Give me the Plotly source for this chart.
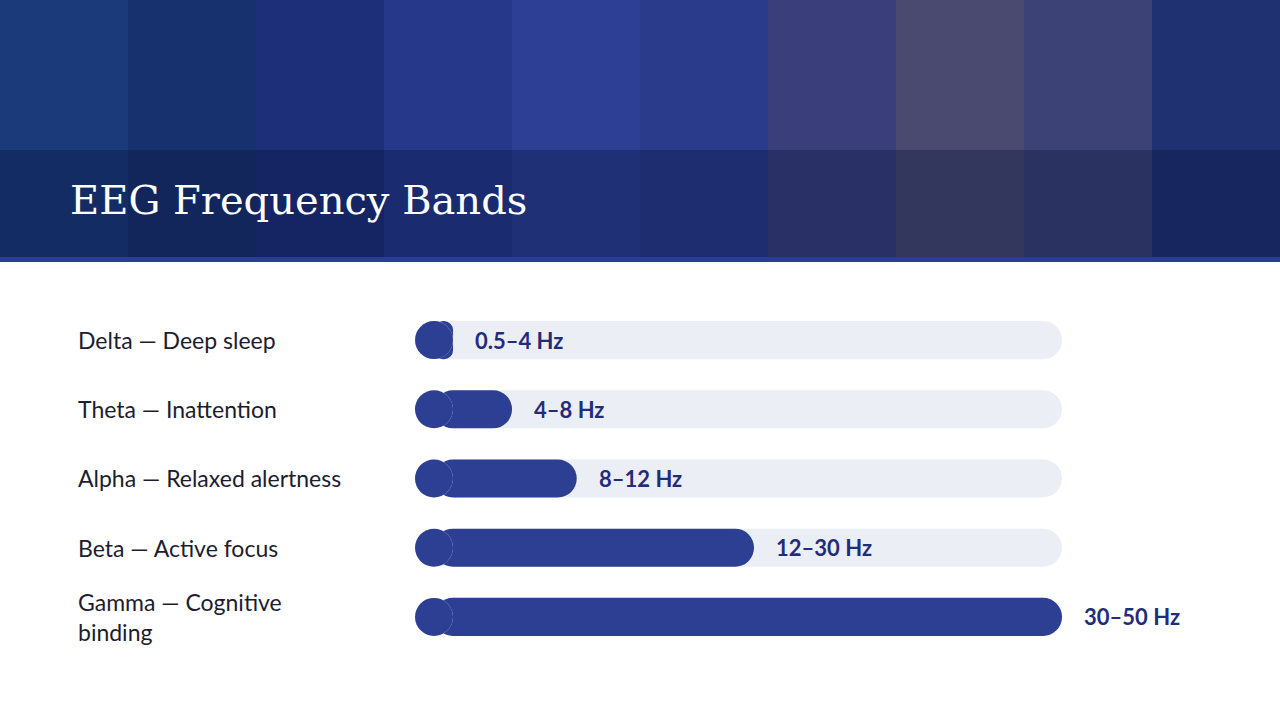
import plotly.graph_objects as go

bands = ["Delta — Deep sleep", "Theta — Inattention", "Alpha — Relaxed alertness",
         "Beta — Active focus", "Gamma — Cognitive<br>binding"]
ranges = ["0.5–4 Hz", "4–8 Hz", "8–12 Hz", "12–30 Hz", "30–50 Hz"]
bar_length = [2.94, 7.5, 12.5, 26.2, 50]
track_max = 50

# header banner colour bands (left to right)
banner_colors = ["#1a3a7a", "#17306e", "#1c2f78", "#26388a", "#2c3f95", "#2a3b8c",
                 "#3a3f7c", "#4a4a70", "#3c4275", "#1f3170"]

navy = "#1f2d7a"
bar_color = "#2c3f93"
cap = 19 / 12.94  # half bar height in data units, for the rounded left end

fig = go.Figure()
fig.add_trace(go.Bar(
    x=[track_max - cap] * len(bands), base=cap, y=bands, orientation="h",
    marker=dict(color="#eceef5", cornerradius="50%", line=dict(width=0)),
    width=0.55, hoverinfo="skip", showlegend=False,
))
fig.add_trace(go.Scatter(
    x=[cap] * len(bands), y=bands, mode="markers",
    marker=dict(size=38, color="#eceef5", line=dict(width=0)),
    hoverinfo="skip", showlegend=False,
))
fig.add_trace(go.Bar(
    x=[max(v - cap, 0) for v in bar_length], base=cap, y=bands, orientation="h",
    marker=dict(color=bar_color, cornerradius="50%", line=dict(width=0)),
    width=0.55, showlegend=False,
))
fig.add_trace(go.Scatter(
    x=[cap] * len(bands), y=bands, mode="markers",
    marker=dict(size=38, color=bar_color, line=dict(width=0)),
    hoverinfo="skip", showlegend=False,
))

for b, r, v in zip(bands, ranges, bar_length):
    fig.add_annotation(x=v, y=b, xref="x", yref="y", text="<b>" + r + "</b>",
                       xanchor="left", xshift=20, showarrow=False,
                       font=dict(family="Lato, Open Sans", size=22, color=navy))
    fig.add_annotation(x=76 / 1280, y=b, xref="paper", yref="y", text=b,
                       xanchor="left", align="left", showarrow=False,
                       font=dict(family="Lato, Open Sans", size=23, color="#1c1c2e"))

n = len(banner_colors)
for i, c in enumerate(banner_colors):
    fig.add_shape(type="rect", xref="paper", yref="paper", x0=i / n, x1=(i + 1) / n + 0.001,
                  y0=1 - 258 / 720, y1=1, fillcolor=c, line_width=0, layer="below")
fig.add_shape(type="rect", xref="paper", yref="paper", x0=0, x1=1,
              y0=1 - 258 / 720, y1=1 - 150 / 720, fillcolor="rgba(10,20,60,0.35)",
              line_width=0, layer="below")
fig.add_shape(type="rect", xref="paper", yref="paper", x0=0, x1=1,
              y0=1 - 262 / 720, y1=1 - 257 / 720, fillcolor="#2a3b9a", line_width=0)
fig.add_annotation(x=68 / 1280, y=1 - 200 / 720, xref="paper", yref="paper",
                   text="EEG Frequency Bands", xanchor="left", yanchor="middle",
                   showarrow=False,
                   font=dict(family="DejaVu Serif", size=40, color="white"))

fig.update_layout(
    width=1280, height=720, barmode="overlay",
    margin=dict(l=0, r=0, t=0, b=0),
    paper_bgcolor="white", plot_bgcolor="white",
    xaxis=dict(domain=[415 / 1280, 1062 / 1280], range=[0, track_max], visible=False),
    yaxis=dict(domain=[1 - 651.5 / 720, 1 - 305.5 / 720], range=[4.5, -0.5],
               autorange=False, visible=False),
)
fig.write_html("out.html", config={"displayModeBar": False},
               post_script="document.body.style.margin='0';")
